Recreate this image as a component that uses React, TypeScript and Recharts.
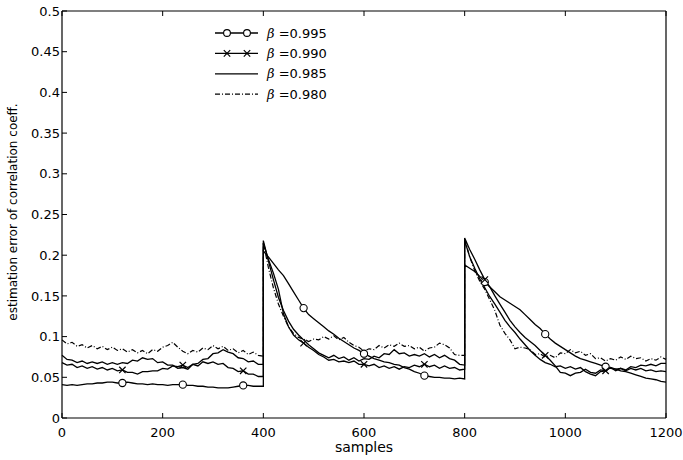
import React from 'react';
import { LineChart, Line, XAxis, YAxis, Legend, Label } from 'recharts';

// x grid: three 400-sample blocks, each block starts with a jump (duplicate sample at 400 and 800)
const blockStarts = [0, 400, 800];
const step = 10;
const samples: number[] = [];
blockStarts.forEach((s) => {
  for (let i = 0; i <= 40; i++) samples.push(s + i * step);
});

const xTicks = [0, 200, 400, 600, 800, 1000, 1200];
const yTicks = [0, 0.05, 0.1, 0.15, 0.2, 0.25, 0.3, 0.35, 0.4, 0.45, 0.5];
const betaLabels = ['0.995', '0.990', '0.985', '0.980'];

// beta = 0.995 (circles)
const b995 = [
  0.041, 0.040, 0.041, 0.040, 0.041, 0.042, 0.042, 0.043, 0.043, 0.044, 0.044, 0.043, 0.043, 0.044, 0.043, 0.042, 0.042, 0.041, 0.042, 0.041, 0.041, 0.040, 0.041, 0.041, 0.041, 0.040, 0.040, 0.039, 0.039, 0.038, 0.038, 0.037, 0.037, 0.037, 0.038, 0.039, 0.040, 0.040, 0.039, 0.039, 0.039,
  0.205, 0.198, 0.190, 0.182, 0.175, 0.165, 0.155, 0.145, 0.135, 0.127, 0.122, 0.117, 0.112, 0.107, 0.103, 0.098, 0.094, 0.090, 0.086, 0.083, 0.079, 0.076, 0.073, 0.071, 0.069, 0.068, 0.066, 0.065, 0.062, 0.060, 0.057, 0.055, 0.052, 0.051, 0.050, 0.050, 0.049, 0.049, 0.048, 0.049, 0.048,
  0.188, 0.184, 0.180, 0.174, 0.167, 0.161, 0.155, 0.149, 0.145, 0.141, 0.137, 0.133, 0.127, 0.121, 0.115, 0.110, 0.103, 0.097, 0.092, 0.088, 0.084, 0.080, 0.076, 0.073, 0.071, 0.069, 0.067, 0.065, 0.063, 0.061, 0.060, 0.058, 0.057, 0.055, 0.053, 0.051, 0.049, 0.048, 0.047, 0.045, 0.044,
];

// beta = 0.990 (crosses)
const b990 = [
  0.068, 0.065, 0.066, 0.062, 0.064, 0.061, 0.063, 0.060, 0.062, 0.059, 0.061, 0.058, 0.059, 0.056, 0.056, 0.054, 0.057, 0.057, 0.058, 0.058, 0.061, 0.060, 0.064, 0.063, 0.065, 0.062, 0.066, 0.064, 0.069, 0.067, 0.069, 0.066, 0.067, 0.062, 0.061, 0.057, 0.058, 0.054, 0.054, 0.051, 0.051,
  0.215, 0.195, 0.178, 0.158, 0.128, 0.112, 0.102, 0.096, 0.092, 0.087, 0.083, 0.078, 0.075, 0.071, 0.072, 0.069, 0.070, 0.068, 0.070, 0.066, 0.066, 0.064, 0.066, 0.062, 0.064, 0.061, 0.063, 0.060, 0.063, 0.062, 0.065, 0.063, 0.066, 0.063, 0.065, 0.061, 0.064, 0.061, 0.062, 0.059, 0.060,
  0.221, 0.207, 0.195, 0.182, 0.170, 0.161, 0.150, 0.140, 0.130, 0.120, 0.112, 0.105, 0.099, 0.094, 0.089, 0.083, 0.077, 0.071, 0.064, 0.056, 0.055, 0.052, 0.055, 0.056, 0.060, 0.056, 0.055, 0.059, 0.058, 0.062, 0.058, 0.061, 0.058, 0.061, 0.059, 0.061, 0.058, 0.059, 0.057, 0.058, 0.057,
];

// beta = 0.985 (solid)
const b985 = [
  0.077, 0.072, 0.071, 0.068, 0.070, 0.067, 0.069, 0.067, 0.069, 0.066, 0.068, 0.066, 0.068, 0.067, 0.071, 0.070, 0.074, 0.072, 0.073, 0.068, 0.069, 0.065, 0.065, 0.061, 0.062, 0.060, 0.066, 0.067, 0.072, 0.073, 0.079, 0.080, 0.084, 0.081, 0.079, 0.074, 0.073, 0.069, 0.070, 0.066, 0.066,
  0.218, 0.193, 0.170, 0.148, 0.132, 0.119, 0.109, 0.102, 0.096, 0.090, 0.085, 0.080, 0.077, 0.074, 0.077, 0.073, 0.075, 0.071, 0.074, 0.070, 0.073, 0.072, 0.076, 0.074, 0.079, 0.078, 0.084, 0.079, 0.080, 0.076, 0.078, 0.076, 0.079, 0.075, 0.078, 0.074, 0.077, 0.073, 0.071, 0.066, 0.065,
  0.218, 0.198, 0.184, 0.171, 0.160, 0.149, 0.140, 0.130, 0.120, 0.112, 0.105, 0.097, 0.090, 0.083, 0.077, 0.072, 0.068, 0.066, 0.063, 0.064, 0.061, 0.063, 0.060, 0.062, 0.057, 0.054, 0.052, 0.057, 0.058, 0.062, 0.060, 0.061, 0.059, 0.063, 0.062, 0.065, 0.064, 0.066, 0.064, 0.067, 0.067,
];

// beta = 0.980 (dash-dot)
const b980 = [
  0.096, 0.091, 0.093, 0.088, 0.090, 0.086, 0.089, 0.085, 0.088, 0.084, 0.087, 0.083, 0.085, 0.081, 0.084, 0.080, 0.083, 0.079, 0.084, 0.082, 0.087, 0.089, 0.093, 0.087, 0.082, 0.079, 0.083, 0.081, 0.086, 0.084, 0.089, 0.085, 0.088, 0.083, 0.085, 0.080, 0.083, 0.078, 0.081, 0.077, 0.076,
  0.215, 0.185, 0.160, 0.140, 0.125, 0.112, 0.104, 0.099, 0.097, 0.094, 0.097, 0.096, 0.100, 0.097, 0.101, 0.096, 0.099, 0.093, 0.089, 0.087, 0.082, 0.085, 0.084, 0.089, 0.086, 0.090, 0.088, 0.092, 0.088, 0.089, 0.085, 0.087, 0.082, 0.086, 0.087, 0.092, 0.090, 0.086, 0.078, 0.077, 0.077,
  0.220, 0.198, 0.181, 0.168, 0.158, 0.145, 0.132, 0.114, 0.104, 0.096, 0.085, 0.087, 0.086, 0.084, 0.078, 0.079, 0.075, 0.077, 0.074, 0.080, 0.079, 0.084, 0.080, 0.082, 0.077, 0.079, 0.073, 0.074, 0.070, 0.073, 0.071, 0.075, 0.072, 0.076, 0.073, 0.074, 0.070, 0.073, 0.071, 0.075, 0.072,
];

const data = samples.map((s, i) => ({
  sample: s,
  b995: b995[i],
  b990: b990[i],
  b985: b985[i],
  b980: b980[i],
}));

const FONT = 'DejaVu Sans, Liberation Sans, Arial, sans-serif';
const markerEvery = 120;
const hasMarker = (s: number) => s > 0 && s < 1200 && s % markerEvery === 0;

const circleDot = (props: any) => {
  const { cx, cy, payload, index } = props;
  if (!hasMarker(payload.sample)) return <g key={`c${index}`} />;
  return <circle key={`c${index}`} cx={cx} cy={cy} r={3.6} fill="#fff" stroke="#000" strokeWidth={1.1} />;
};

const crossDot = (props: any) => {
  const { cx, cy, payload, index } = props;
  if (!hasMarker(payload.sample)) return <g key={`x${index}`} />;
  const d = 3.2;
  return (
    <g key={`x${index}`} stroke="#000" strokeWidth={1.2}>
      <line x1={cx - d} y1={cy - d} x2={cx + d} y2={cy + d} />
      <line x1={cx - d} y1={cy + d} x2={cx + d} y2={cy - d} />
    </g>
  );
};

const LeftTick = (props: any) => {
  const { x, y, payload } = props;
  return (
    <g>
      <line x1={x} y1={y} x2={x + 5} y2={y} stroke="#000" strokeWidth={1} />
      <text x={x - 2} y={y} dy="0.36em" textAnchor="end" fontSize={13} fontFamily={FONT} fill="#000">
        {payload.value}
      </text>
    </g>
  );
};

const RightTick = (props: any) => {
  const { x, y } = props;
  return <line x1={x} y1={y} x2={x - 5} y2={y} stroke="#000" strokeWidth={1} />;
};

const BottomTick = (props: any) => {
  const { x, y, payload } = props;
  return (
    <g>
      <line x1={x} y1={y} x2={x} y2={y - 5} stroke="#000" strokeWidth={1} />
      <text x={x} y={y + 19} textAnchor="middle" fontSize={13} fontFamily={FONT} fill="#000">
        {payload.value}
      </text>
    </g>
  );
};

const TopTick = (props: any) => {
  const { x, y } = props;
  return <line x1={x} y1={y} x2={x} y2={y + 5} stroke="#000" strokeWidth={1} />;
};

const YLabel = () => (
  <text
    x={13}
    y={212}
    transform="rotate(-90 13 212)"
    textAnchor="middle"
    dominantBaseline="central"
    fontSize={12}
    fontFamily={FONT}
    fill="#000"
  >
    estimation error of correlation coeff.
  </text>
);

const legendRows = [
  { label: betaLabels[0], marker: 'circle', dash: undefined as string | undefined },
  { label: betaLabels[1], marker: 'cross', dash: undefined as string | undefined },
  { label: betaLabels[2], marker: 'none', dash: undefined as string | undefined },
  { label: betaLabels[3], marker: 'none', dash: '5 2 1 2' },
];

const LegendBox = () => (
  <svg width={150} height={90} style={{ display: 'block' }}>
    {legendRows.map((r, i) => {
      const y = 13 + i * 20.4;
      return (
        <g key={r.label}>
          <line x1={15} y1={y} x2={58} y2={y} stroke="#000" strokeWidth={1.3} strokeDasharray={r.dash} />
          {r.marker === 'circle' &&
            [27, 47].map((cx) => (
              <circle key={cx} cx={cx} cy={y} r={3.4} fill="#fff" stroke="#000" strokeWidth={1.1} />
            ))}
          {r.marker === 'cross' &&
            [27, 47].map((cx) => (
              <g key={cx} stroke="#000" strokeWidth={1.2}>
                <line x1={cx - 3.2} y1={y - 3.2} x2={cx + 3.2} y2={y + 3.2} />
                <line x1={cx - 3.2} y1={y + 3.2} x2={cx + 3.2} y2={y - 3.2} />
              </g>
            ))}
          <text x={67} y={y} dy="0.36em" fontSize={13} fontFamily={FONT} fill="#000">
            <tspan fontFamily="DejaVu Serif, serif" fontStyle="italic">β</tspan>
            <tspan> =</tspan>
            <tspan>{r.label}</tspan>
          </text>
        </g>
      );
    })}
  </svg>
);

export default function App() {
  return (
    <div style={{ position: 'absolute', left: 0, top: 0, background: '#fff' }}>
      <LineChart width={683} height={460} data={data} margin={{ top: 10, right: 16, bottom: 0, left: 0 }}>
        <XAxis
          xAxisId="bottom"
          dataKey="sample"
          type="number"
          domain={[0, 1200]}
          ticks={xTicks}
          interval={0}
          height={42}
          tickSize={0}
          tickMargin={0}
          tick={BottomTick}
          tickLine={false}
          axisLine={{ stroke: '#000', strokeWidth: 1.2 }}
        >
          <Label value="samples" position="insideBottom" offset={8} fontSize={14} fontFamily={FONT} fill="#000" />
        </XAxis>
        <XAxis
          xAxisId="top"
          orientation="top"
          dataKey="sample"
          type="number"
          domain={[0, 1200]}
          ticks={xTicks}
          interval={0}
          height={1}
          tickSize={0}
          tickMargin={0}
          tick={TopTick}
          tickLine={false}
          axisLine={{ stroke: '#000', strokeWidth: 1.2 }}
        />
        <YAxis
          yAxisId="left"
          type="number"
          domain={[0, 0.5]}
          ticks={yTicks}
          interval={0}
          width={62}
          tickSize={0}
          tickMargin={0}
          tick={LeftTick}
          tickLine={false}
          axisLine={{ stroke: '#000', strokeWidth: 1.2 }}
        >
          <Label content={<YLabel />} />
        </YAxis>
        <YAxis
          yAxisId="right"
          orientation="right"
          type="number"
          domain={[0, 0.5]}
          ticks={yTicks}
          interval={0}
          width={1}
          tickSize={0}
          tickMargin={0}
          tick={RightTick}
          tickLine={false}
          axisLine={{ stroke: '#000', strokeWidth: 1.2 }}
        />
        <Legend
          layout="vertical"
          align="center"
          verticalAlign="middle"
          content={<LegendBox />}
          wrapperStyle={{ position: 'absolute', left: 200, top: 20, width: 150, height: 90 }}
        />
        <Line xAxisId="bottom" yAxisId="left" type="linear" dataKey="b995" stroke="#000" strokeWidth={1.3} dot={circleDot} activeDot={false} isAnimationActive={false} />
        <Line xAxisId="bottom" yAxisId="left" type="linear" dataKey="b990" stroke="#000" strokeWidth={1.3} dot={crossDot} activeDot={false} isAnimationActive={false} />
        <Line xAxisId="bottom" yAxisId="left" type="linear" dataKey="b985" stroke="#000" strokeWidth={1.3} dot={false} activeDot={false} isAnimationActive={false} />
        <Line xAxisId="bottom" yAxisId="left" type="linear" dataKey="b980" stroke="#000" strokeWidth={1.2} strokeDasharray="5 2 1 2" dot={false} activeDot={false} isAnimationActive={false} />
      </LineChart>
    </div>
  );
}
